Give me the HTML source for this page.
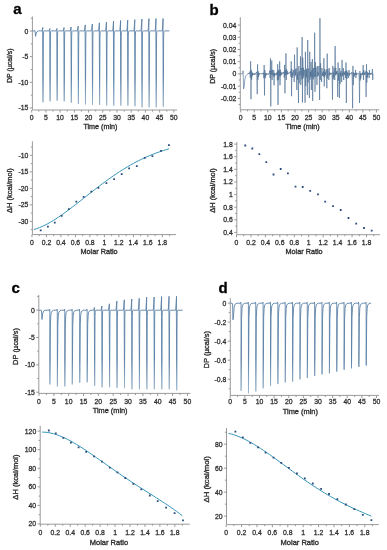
<!DOCTYPE html>
<html><head><meta charset="utf-8"><style>
html,body{margin:0;padding:0;background:#fff;width:387px;height:550px;overflow:hidden}
svg{display:block;filter:blur(0.3px)}
.t{font-family:"Liberation Sans",sans-serif;font-size:6.85px;fill:#2e2e2e;stroke:#2e2e2e;stroke-width:0.28}
.ti{font-family:"Liberation Sans",sans-serif;font-size:7.4px;fill:#2e2e2e;stroke:#2e2e2e;stroke-width:0.34}
.pl{font-family:"Liberation Sans",sans-serif;font-size:15px;font-weight:bold;fill:#000;stroke:#000;stroke-width:0.3}
</style></head><body>
<svg width="387" height="550" viewBox="0 0 387 550">
<defs><linearGradient id="ga" gradientUnits="userSpaceOnUse" x1="0" y1="30.9" x2="0" y2="107"><stop offset="0" stop-color="#5a80a6"/><stop offset="0.6" stop-color="#5a80a6"/><stop offset="1" stop-color="#9db6cc"/></linearGradient><linearGradient id="gc" gradientUnits="userSpaceOnUse" x1="0" y1="310.2" x2="0" y2="390"><stop offset="0" stop-color="#5a80a6"/><stop offset="0.6" stop-color="#5a80a6"/><stop offset="1" stop-color="#9db6cc"/></linearGradient><linearGradient id="gd" gradientUnits="userSpaceOnUse" x1="0" y1="303.2" x2="0" y2="393"><stop offset="0" stop-color="#5a80a6"/><stop offset="0.6" stop-color="#5a80a6"/><stop offset="1" stop-color="#9db6cc"/></linearGradient></defs>
<rect width="387" height="550" fill="#fff"/>
<text x="13.2" y="13.9" class="pl">a</text>
<text x="209.4" y="15" class="pl">b</text>
<text x="11.5" y="292.8" class="pl">c</text>
<text x="218.4" y="292.8" class="pl">d</text>
<path d="M32.4 16.5V110H177" fill="none" stroke="#8e8e8e" stroke-width="0.9"/>
<path d="M32.4 31.01h-2.6M32.4 56.67h-2.6M32.4 82.33h-2.6M32.4 107.99h-2.6M32.4 18.18h-1.6M32.4 43.84h-1.6M32.4 69.5h-1.6M32.4 95.16h-1.6M31.69 110v2.6M45.91 110v2.6M60.13 110v2.6M74.34 110v2.6M88.56 110v2.6M102.77 110v2.6M116.99 110v2.6M131.21 110v2.6M145.42 110v2.6M159.64 110v2.6M173.86 110v2.6M38.8 110v1.6M53.02 110v1.6M67.23 110v1.6M81.45 110v1.6M95.67 110v1.6M109.88 110v1.6M124.1 110v1.6M138.31 110v1.6M152.53 110v1.6M166.75 110v1.6" fill="none" stroke="#8e8e8e" stroke-width="0.9"/>
<text x="28.4" y="33.51" text-anchor="end" class="t">0</text>
<text x="28.4" y="59.17" text-anchor="end" class="t">-5</text>
<text x="28.4" y="84.83" text-anchor="end" class="t">-10</text>
<text x="28.4" y="110.49" text-anchor="end" class="t">-15</text>
<text x="31.69" y="119.85" text-anchor="middle" class="t">0</text>
<text x="45.91" y="119.85" text-anchor="middle" class="t">5</text>
<text x="60.13" y="119.85" text-anchor="middle" class="t">10</text>
<text x="74.34" y="119.85" text-anchor="middle" class="t">15</text>
<text x="88.56" y="119.85" text-anchor="middle" class="t">20</text>
<text x="102.77" y="119.85" text-anchor="middle" class="t">25</text>
<text x="116.99" y="119.85" text-anchor="middle" class="t">30</text>
<text x="131.21" y="119.85" text-anchor="middle" class="t">35</text>
<text x="145.42" y="119.85" text-anchor="middle" class="t">40</text>
<text x="159.64" y="119.85" text-anchor="middle" class="t">45</text>
<text x="173.86" y="119.85" text-anchor="middle" class="t">50</text>
<path d="M32.4 30.9L35 30.9L35.6 36.3L36.2 33L37.2 31.5L38.5 30.9L42 30.9L42.8 27.4L42.65 32.9L42.7 36.9L43 102.3L43.35 36.9L43.55 31.5L44.1 30.9L49.08 30.9L49.88 28.5L49.73 32.9L49.78 36.9L50.08 101.3L50.43 36.9L50.63 31.5L51.18 30.9L56.15 30.9L56.95 28.5L56.8 32.9L56.85 36.9L57.15 100.7L57.5 36.9L57.7 31.5L58.25 30.9L63.23 30.9L64.03 27.6L63.88 32.9L63.93 36.9L64.23 101.3L64.58 36.9L64.78 31.5L65.33 30.9L70.3 30.9L71.1 27L70.95 32.9L71 36.9L71.3 102.7L71.65 36.9L71.85 31.5L72.4 30.9L77.38 30.9L78.18 26.1L78.03 32.9L78.08 36.9L78.38 103.8L78.73 36.9L78.93 31.5L79.48 30.9L84.46 30.9L85.26 24.9L85.11 32.9L85.16 36.9L85.46 104.4L85.81 36.9L86.01 31.5L86.56 30.9L91.53 30.9L92.33 24L92.18 32.9L92.23 36.9L92.53 104.8L92.88 36.9L93.08 31.5L93.63 30.9L98.61 30.9L99.41 22.8L99.26 32.9L99.31 36.9L99.61 105L99.96 36.9L100.16 31.5L100.71 30.9L105.68 30.9L106.48 22L106.33 32.9L106.38 36.9L106.68 105.5L107.03 36.9L107.23 31.5L107.78 30.9L112.76 30.9L113.56 21L113.41 32.9L113.46 36.9L113.76 105.7L114.11 36.9L114.31 31.5L114.86 30.9L119.84 30.9L120.64 20.5L120.49 32.9L120.54 36.9L120.84 105.7L121.19 36.9L121.39 31.5L121.94 30.9L126.91 30.9L127.71 20L127.56 32.9L127.61 36.9L127.91 105.7L128.26 36.9L128.46 31.5L129.01 30.9L133.99 30.9L134.79 19.6L134.64 32.9L134.69 36.9L134.99 106.3L135.34 36.9L135.54 31.5L136.09 30.9L141.06 30.9L141.86 19L141.71 32.9L141.76 36.9L142.06 107.3L142.41 36.9L142.61 31.5L143.16 30.9L148.14 30.9L148.94 18.6L148.79 32.9L148.84 36.9L149.14 107.3L149.49 36.9L149.69 31.5L150.24 30.9L155.22 30.9L156.02 18.5L155.87 32.9L155.92 36.9L156.22 107.3L156.57 36.9L156.77 31.5L157.32 30.9L162.29 30.9L163.09 18.5L162.94 32.9L162.99 36.9L163.29 106.7L163.64 36.9L163.84 31.5L164.39 30.9L169.3 30.9" fill="none" stroke="url(#ga)" stroke-width="0.9" stroke-linejoin="round" />
<path d="M32.4 141.2V234.6H176" fill="none" stroke="#8e8e8e" stroke-width="0.9"/>
<path d="M32.4 155.34h-2.6M32.4 171.85h-2.6M32.4 188.36h-2.6M32.4 204.87h-2.6M32.4 221.38h-2.6M32.4 147.09h-1.6M32.4 163.6h-1.6M32.4 180.11h-1.6M32.4 196.62h-1.6M32.4 213.12h-1.6M32.4 229.63h-1.6M31.94 234.6v2.6M46.43 234.6v2.6M60.92 234.6v2.6M75.41 234.6v2.6M89.9 234.6v2.6M104.39 234.6v2.6M118.88 234.6v2.6M133.37 234.6v2.6M147.86 234.6v2.6M162.35 234.6v2.6M39.18 234.6v1.6M53.67 234.6v1.6M68.16 234.6v1.6M82.65 234.6v1.6M97.14 234.6v1.6M111.64 234.6v1.6M126.13 234.6v1.6M140.62 234.6v1.6M155.11 234.6v1.6M169.6 234.6v1.6" fill="none" stroke="#8e8e8e" stroke-width="0.9"/>
<text x="28.4" y="157.84" text-anchor="end" class="t">-10</text>
<text x="28.4" y="174.35" text-anchor="end" class="t">-15</text>
<text x="28.4" y="190.86" text-anchor="end" class="t">-20</text>
<text x="28.4" y="207.37" text-anchor="end" class="t">-25</text>
<text x="28.4" y="223.88" text-anchor="end" class="t">-30</text>
<text x="31.94" y="244.55" text-anchor="middle" class="t">0</text>
<text x="46.43" y="244.55" text-anchor="middle" class="t">0.2</text>
<text x="60.92" y="244.55" text-anchor="middle" class="t">0.4</text>
<text x="75.41" y="244.55" text-anchor="middle" class="t">0.6</text>
<text x="89.9" y="244.55" text-anchor="middle" class="t">0.8</text>
<text x="104.39" y="244.55" text-anchor="middle" class="t">1</text>
<text x="118.88" y="244.55" text-anchor="middle" class="t">1.2</text>
<text x="133.37" y="244.55" text-anchor="middle" class="t">1.4</text>
<text x="147.86" y="244.55" text-anchor="middle" class="t">1.6</text>
<text x="162.35" y="244.55" text-anchor="middle" class="t">1.8</text>
<path d="M33.9 229.52L36.66 228.65L39.42 227.63L42.18 226.46L44.94 225.15L47.7 223.72L50.46 222.18L53.21 220.53L55.97 218.8L58.73 216.98L61.49 215.09L64.25 213.13L67.01 211.12L69.77 209.06L72.53 206.96L75.29 204.84L78.05 202.69L80.81 200.52L83.57 198.34L86.32 196.17L89.08 193.99L91.84 191.83L94.6 189.68L97.36 187.55L100.12 185.45L102.88 183.37L105.64 181.33L108.4 179.33L111.16 177.37L113.92 175.46L116.68 173.59L119.43 171.78L122.19 170.01L124.95 168.3L127.71 166.65L130.47 165.06L133.23 163.52L135.99 162.04L138.75 160.63L141.51 159.27L144.27 157.98L147.03 156.74L149.79 155.56L152.54 154.43L155.3 153.37L158.06 152.35L160.82 151.39L163.58 150.47L166.34 149.6L169.1 148.78" fill="none" stroke="#3797b9" stroke-width="1.0" stroke-linejoin="round" />
<path d="M39.8 229.4h1.8v1.8h-1.8zM47 225.7h1.8v1.8h-1.8zM53.9 221.7h1.8v1.8h-1.8zM60.7 214.9h1.8v1.8h-1.8zM67.9 208.3h1.8v1.8h-1.8zM75.4 200.8h1.8v1.8h-1.8zM82.7 196h1.8v1.8h-1.8zM90.4 190.8h1.8v1.8h-1.8zM97.5 186.9h1.8v1.8h-1.8zM105.5 182.3h1.8v1.8h-1.8zM113.2 178.3h1.8v1.8h-1.8zM120.8 173.2h1.8v1.8h-1.8zM128.2 167.5h1.8v1.8h-1.8zM135.9 165.3h1.8v1.8h-1.8zM143.9 157h1.8v1.8h-1.8zM151.5 155.3h1.8v1.8h-1.8zM160.1 149.9h1.8v1.8h-1.8zM168 144.2h1.8v1.8h-1.8z" fill="#2b4d7d"/>
<path d="M240.3 17.2V109.8H379.2" fill="none" stroke="#8e8e8e" stroke-width="0.9"/>
<path d="M240.3 25.05h-2.6M240.3 37.26h-2.6M240.3 49.48h-2.6M240.3 61.7h-2.6M240.3 73.92h-2.6M240.3 86.14h-2.6M240.3 98.35h-2.6M240.3 31.16h-1.6M240.3 43.37h-1.6M240.3 55.59h-1.6M240.3 67.81h-1.6M240.3 80.03h-1.6M240.3 92.24h-1.6M240.3 104.46h-1.6M240.7 109.8v2.6M254.28 109.8v2.6M267.85 109.8v2.6M281.42 109.8v2.6M295 109.8v2.6M308.57 109.8v2.6M322.15 109.8v2.6M335.72 109.8v2.6M349.29 109.8v2.6M362.87 109.8v2.6M376.44 109.8v2.6M247.49 109.8v1.6M261.06 109.8v1.6M274.64 109.8v1.6M288.21 109.8v1.6M301.78 109.8v1.6M315.36 109.8v1.6M328.93 109.8v1.6M342.51 109.8v1.6M356.08 109.8v1.6M369.66 109.8v1.6" fill="none" stroke="#8e8e8e" stroke-width="0.9"/>
<text x="236.3" y="27.55" text-anchor="end" class="t">0.04</text>
<text x="236.3" y="39.76" text-anchor="end" class="t">0.03</text>
<text x="236.3" y="51.98" text-anchor="end" class="t">0.02</text>
<text x="236.3" y="64.2" text-anchor="end" class="t">0.01</text>
<text x="236.3" y="76.42" text-anchor="end" class="t">0</text>
<text x="236.3" y="88.64" text-anchor="end" class="t">-0.01</text>
<text x="236.3" y="100.85" text-anchor="end" class="t">-0.02</text>
<text x="240.7" y="120.05" text-anchor="middle" class="t">0</text>
<text x="254.28" y="120.05" text-anchor="middle" class="t">5</text>
<text x="267.85" y="120.05" text-anchor="middle" class="t">10</text>
<text x="281.42" y="120.05" text-anchor="middle" class="t">15</text>
<text x="295" y="120.05" text-anchor="middle" class="t">20</text>
<text x="308.57" y="120.05" text-anchor="middle" class="t">25</text>
<text x="322.15" y="120.05" text-anchor="middle" class="t">30</text>
<text x="335.72" y="120.05" text-anchor="middle" class="t">35</text>
<text x="349.29" y="120.05" text-anchor="middle" class="t">40</text>
<text x="362.87" y="120.05" text-anchor="middle" class="t">45</text>
<text x="376.44" y="120.05" text-anchor="middle" class="t">50</text>
<path d="M240.6 73.8L242.6 73.8L243.1 70.7L243.6 89L244.2 86L244.8 80L245.6 76L246.8 74.8L248 73.8L248 73.48L248.33 73.17L248.66 74.07L248.99 73.03L249.32 73.86L249.65 73.56L249.98 71.43L250.31 77.77L250.64 61.3L250.97 99.3L251.3 69.78L251.63 79.76L251.96 71.95L252.29 76.2L252.62 73.1L252.95 74.9L253.28 73.44L253.61 74.61L253.94 73.94L254.27 73.61L254.6 74.66L254.93 72.98L255.26 74.45L255.59 73.42L255.92 73.16L256.25 73.11L256.58 71.82L256.91 78.86L257.24 94.2L257.57 64.4L257.9 79.89L258.23 71.37L258.56 76.92L258.89 72.93L259.22 74.83L259.55 73.51L259.88 74.11L260.21 73.67L260.54 73.47L260.87 73.95L261.2 73.72L261.53 73.44L261.86 74.33L262.19 74.16L262.52 73.34L262.85 73.93L263.18 73.85L263.51 72.68L263.84 78.19L264.17 65L264.5 95.4L264.83 70.12L265.16 78.16L265.49 72.97L265.82 75.84L266.15 73.36L266.48 74.54L266.81 73.55L267.14 74.28L267.47 73.93L267.8 74.48L268.13 73.2L268.46 74.42L268.79 74.1L269.12 74.06L269.45 73.66L269.78 70.54L270.11 78.06L270.44 58.4L270.77 106.4L271.1 70.53L271.43 74.81L271.76 60.5L272.09 80L272.42 69.79L272.75 74.68L273.08 73.28L273.41 76.41L273.74 70L274.07 85.3L274.4 72.83L274.73 76.37L275.06 73.33L275.39 74.65L275.72 73.58L276.05 74.09L276.38 73.69L276.71 74.99L277.04 71.81L277.37 80.47L277.7 64.2L278.03 104.9L278.36 69.79L278.69 79.89L279.02 70.95L279.35 76.27L279.68 61.3L280.01 85.3L280.34 69.6L280.67 76.12L281 71.9L281.33 74.78L281.66 72.94L281.99 74.26L282.32 73.52L282.65 73.04L282.98 72.21L283.31 73.54L283.64 73.38L283.97 71.77L284.3 77.66L284.63 64.9L284.96 93.3L285.29 70.27L285.62 74.92L285.95 53.3L286.28 80L286.61 69.01L286.94 74.69L287.27 70.99L287.6 74.24L287.93 72.87L288.26 74.01L288.59 73.48L288.92 72.4L289.25 72.42L289.58 72.87L289.91 72.72L290.24 73.29L290.57 71.21L290.9 76.78L291.23 61.3L291.56 96.2L291.89 68.98L292.22 77.76L292.55 72.6L292.88 75.41L293.21 73.02L293.54 70.23L293.87 75.22L294.2 82L294.53 54.7L294.86 76.49L295.19 69.27L295.52 75.1L295.85 72.05L296.18 68.35L296.51 77.23L296.84 90L297.17 47.4L297.5 79.63L297.83 72.54L298.16 79.34L298.49 103L298.82 66L299.15 83.3L299.48 72.19L299.81 71L300.14 75.31L300.47 56.4L300.8 85L301.13 67.98L301.46 68.55L301.79 79.25L302.12 37L302.45 102.4L302.78 57.84L303.11 78.37L303.44 67.8L303.77 76.25L304.1 71.3L304.43 69.97L304.76 77.99L305.09 102.7L305.42 51.8L305.75 86.32L306.08 68.58L306.41 77.44L306.74 69.57L307.07 78.44L307.4 95L307.73 40L308.06 82.46L308.39 68.46L308.72 69.98L309.05 79.46L309.38 98L309.71 51.8L310.04 79.59L310.37 71.96L310.7 76.36L311.03 62L311.36 90L311.69 70.62L312.02 77.36L312.35 59L312.68 100.9L313.01 68.1L313.34 79.34L313.67 71.48L314 67.79L314.33 76.98L314.66 32.7L314.99 91.8L315.32 62.1L315.65 76.99L315.98 67.4L316.31 72.71L316.64 76.1L316.97 85L317.3 66L317.63 76.48L317.96 72.15L318.29 75.62L318.62 73.11L318.95 65.88L319.28 77.71L319.61 100L319.94 18.2L320.27 80.15L320.6 63.28L320.93 72.8L321.26 75.59L321.59 82L321.92 68L322.25 76L322.58 72.76L322.91 75.09L323.24 71.67L323.57 76.79L323.9 58.2L324.23 86.4L324.56 69L324.89 76.72L325.22 71.8L325.55 74.74L325.88 72.78L326.21 69.48L326.54 77.21L326.87 88.2L327.2 53.6L327.53 78.51L327.86 69.28L328.19 72.89L328.52 74.66L328.85 80L329.18 68L329.51 75.39L329.84 72.55L330.17 74.73L330.5 73.16L330.83 74.18L331.16 73.58L331.49 73.96L331.82 72.73L332.15 79.53L332.48 99.6L332.81 65.9L333.14 79.54L333.47 72.55L333.8 77.42L334.13 67.9L334.46 74.66L334.79 80L335.12 46L335.45 75.27L335.78 67.82L336.11 74.68L336.44 71.61L336.77 74.07L337.1 70.98L337.43 77.51L337.76 97L338.09 62.5L338.42 80.58L338.75 73.03L339.08 77.4L339.41 97.9L339.74 68L340.07 83.89L340.4 72.45L340.73 76.13L341.06 70.81L341.39 75.2L341.72 82L342.05 59.9L342.38 76.34L342.71 72.91L343.04 74.75L343.37 68L343.7 80L344.03 71.53L344.36 74.93L344.69 72.79L345.02 74.33L345.35 71.05L345.68 77.98L346.01 62.5L346.34 103L346.67 70.3L347 78.79L347.33 71.8L347.66 75.69L347.99 72.98L348.32 74.85L348.65 78L348.98 70L349.31 75.6L349.64 73.09L349.97 74.25L350.3 73.38L350.63 74.06L350.96 73.71L351.29 73.9L351.62 73.83L351.95 71.98L352.28 82.34L352.61 108.2L352.94 65.9L353.27 84.82L353.6 72.56L353.93 77.12L354.26 73.31L354.59 75.56L354.92 73.14L355.25 74.73L355.58 70L355.91 78L356.24 72.7L356.57 74.87L356.9 73.43L357.23 74.21L357.56 73.64L357.89 73.95L358.22 73.72L358.55 73.13L358.88 73.34L359.21 80.72L359.54 103L359.87 71.1L360.2 80.48L360.53 73.26L360.86 78.54L361.19 73.53L361.52 74.9L361.85 73.74L362.18 74.25L362.51 72.42L362.84 75.15L363.17 65L363.5 80L363.83 70.09L364.16 74.97L364.49 72.8L364.82 74.49L365.15 73.29L365.48 71.49L365.81 77.56L366.14 97L366.47 64.2L366.8 82.67L367.13 71.64L367.46 77.55L367.79 72.74L368.12 74.69L368.45 72.87L368.78 74.53L369.11 78L369.44 70L369.77 74.97L370.1 73.03L370.43 74.36L370.76 73.38L371.09 73.98L371.42 73.64L371.75 72.84L372.08 74.83L372.41 69L372.74 80L373 73.8" fill="none" stroke="#46698f" stroke-width="0.6" stroke-linejoin="round" />
<path d="M236.8 142V234.7H380" fill="none" stroke="#8e8e8e" stroke-width="0.9"/>
<path d="M236.8 144.12h-2.6M236.8 156.73h-2.6M236.8 169.34h-2.6M236.8 181.96h-2.6M236.8 194.57h-2.6M236.8 207.18h-2.6M236.8 219.8h-2.6M236.8 232.41h-2.6M236.8 150.42h-1.6M236.8 163.04h-1.6M236.8 175.65h-1.6M236.8 188.26h-1.6M236.8 200.88h-1.6M236.8 213.49h-1.6M236.8 226.1h-1.6M236.5 234.7v2.6M250.94 234.7v2.6M265.39 234.7v2.6M279.83 234.7v2.6M294.28 234.7v2.6M308.72 234.7v2.6M323.17 234.7v2.6M337.61 234.7v2.6M352.06 234.7v2.6M366.5 234.7v2.6M243.72 234.7v1.6M258.17 234.7v1.6M272.61 234.7v1.6M287.06 234.7v1.6M301.5 234.7v1.6M315.94 234.7v1.6M330.39 234.7v1.6M344.83 234.7v1.6M359.28 234.7v1.6M373.72 234.7v1.6" fill="none" stroke="#8e8e8e" stroke-width="0.9"/>
<text x="232.8" y="146.62" text-anchor="end" class="t">1.8</text>
<text x="232.8" y="159.23" text-anchor="end" class="t">1.6</text>
<text x="232.8" y="171.84" text-anchor="end" class="t">1.4</text>
<text x="232.8" y="184.46" text-anchor="end" class="t">1.2</text>
<text x="232.8" y="197.07" text-anchor="end" class="t">1</text>
<text x="232.8" y="209.68" text-anchor="end" class="t">0.8</text>
<text x="232.8" y="222.3" text-anchor="end" class="t">0.6</text>
<text x="232.8" y="234.91" text-anchor="end" class="t">0.4</text>
<text x="236.5" y="244.7" text-anchor="middle" class="t">0</text>
<text x="250.94" y="244.7" text-anchor="middle" class="t">0.2</text>
<text x="265.39" y="244.7" text-anchor="middle" class="t">0.4</text>
<text x="279.83" y="244.7" text-anchor="middle" class="t">0.6</text>
<text x="294.28" y="244.7" text-anchor="middle" class="t">0.8</text>
<text x="308.72" y="244.7" text-anchor="middle" class="t">1</text>
<text x="323.17" y="244.7" text-anchor="middle" class="t">1.2</text>
<text x="337.61" y="244.7" text-anchor="middle" class="t">1.4</text>
<text x="352.06" y="244.7" text-anchor="middle" class="t">1.6</text>
<text x="366.5" y="244.7" text-anchor="middle" class="t">1.8</text>
<path d="M244.4 144.6h1.8v1.8h-1.8zM251.4 147.6h1.8v1.8h-1.8zM258.4 153.2h1.8v1.8h-1.8zM265.4 161.3h1.8v1.8h-1.8zM272.6 173.6h1.8v1.8h-1.8zM279.8 168.1h1.8v1.8h-1.8zM287 172.5h1.8v1.8h-1.8zM294.6 185.8h1.8v1.8h-1.8zM301.8 186.1h1.8v1.8h-1.8zM309.3 189.9h1.8v1.8h-1.8zM317.1 193.5h1.8v1.8h-1.8zM324.3 200.8h1.8v1.8h-1.8zM332.1 205.2h1.8v1.8h-1.8zM339.8 209.1h1.8v1.8h-1.8zM347.6 217.1h1.8v1.8h-1.8zM355.3 222.7h1.8v1.8h-1.8zM363.1 227.1h1.8v1.8h-1.8zM370.8 229.7h1.8v1.8h-1.8z" fill="#2b4d7d"/>
<path d="M38.8 294.9V393.4H190.4" fill="none" stroke="#8e8e8e" stroke-width="0.9"/>
<path d="M38.8 310.15h-2.6M38.8 337.5h-2.6M38.8 364.85h-2.6M38.8 392.2h-2.6M38.8 296.48h-1.6M38.8 323.82h-1.6M38.8 351.17h-1.6M38.8 378.52h-1.6M38.99 393.4v2.6M53.83 393.4v2.6M68.68 393.4v2.6M83.52 393.4v2.6M98.37 393.4v2.6M113.21 393.4v2.6M128.05 393.4v2.6M142.9 393.4v2.6M157.74 393.4v2.6M172.58 393.4v2.6M187.43 393.4v2.6M46.41 393.4v1.6M61.26 393.4v1.6M76.1 393.4v1.6M90.94 393.4v1.6M105.79 393.4v1.6M120.63 393.4v1.6M135.47 393.4v1.6M150.32 393.4v1.6M165.16 393.4v1.6M180.01 393.4v1.6" fill="none" stroke="#8e8e8e" stroke-width="0.9"/>
<text x="34.8" y="312.65" text-anchor="end" class="t">0</text>
<text x="34.8" y="340" text-anchor="end" class="t">-5</text>
<text x="34.8" y="367.35" text-anchor="end" class="t">-10</text>
<text x="34.8" y="394.7" text-anchor="end" class="t">-15</text>
<text x="38.99" y="403.6" text-anchor="middle" class="t">0</text>
<text x="53.83" y="403.6" text-anchor="middle" class="t">5</text>
<text x="68.68" y="403.6" text-anchor="middle" class="t">10</text>
<text x="83.52" y="403.6" text-anchor="middle" class="t">15</text>
<text x="98.37" y="403.6" text-anchor="middle" class="t">20</text>
<text x="113.21" y="403.6" text-anchor="middle" class="t">25</text>
<text x="128.05" y="403.6" text-anchor="middle" class="t">30</text>
<text x="142.9" y="403.6" text-anchor="middle" class="t">35</text>
<text x="157.74" y="403.6" text-anchor="middle" class="t">40</text>
<text x="172.58" y="403.6" text-anchor="middle" class="t">45</text>
<text x="187.43" y="403.6" text-anchor="middle" class="t">50</text>
<path d="M38.8 310.2L41.2 310.2L41.6 312L42 319.5L42.6 314L43.6 311L45 310.2L49.3 310.2L49.7 309.2L49.85 312.2L49.9 384.4L50.4 324.2L50.85 315.2L51.4 312.2L52.3 310.8L53.7 310.2L56.76 310.2L57.16 309.2L57.31 312.2L57.36 386.4L57.86 324.2L58.31 315.2L58.86 312.2L59.76 310.8L61.16 310.2L64.22 310.2L64.62 309.2L64.77 312.2L64.82 386.4L65.32 324.2L65.77 315.2L66.32 312.2L67.22 310.8L68.62 310.2L71.68 310.2L72.08 309.2L72.23 312.2L72.28 384.4L72.78 324.2L73.23 315.2L73.78 312.2L74.68 310.8L76.08 310.2L79.14 310.2L79.54 309.2L79.69 312.2L79.74 382.7L80.24 324.2L80.69 315.2L81.24 312.2L82.14 310.8L83.54 310.2L86.6 310.2L87 309.2L87.15 312.2L87.2 382.3L87.7 324.2L88.15 315.2L88.7 312.2L89.6 310.8L91 310.2L93.66 310.2L94.46 307.5L94.31 312.2L94.36 316.2L94.66 385.8L95.01 316.2L95.21 310.8L95.76 310.2L101.12 310.2L101.92 306L101.77 312.2L101.82 316.2L102.12 387.3L102.47 316.2L102.67 310.8L103.22 310.2L108.58 310.2L109.38 303.8L109.23 312.2L109.28 316.2L109.58 387.3L109.93 316.2L110.13 310.8L110.68 310.2L116.04 310.2L116.84 301.1L116.69 312.2L116.74 316.2L117.04 387.9L117.39 316.2L117.59 310.8L118.14 310.2L123.5 310.2L124.3 299.8L124.15 312.2L124.2 316.2L124.5 388.2L124.85 316.2L125.05 310.8L125.6 310.2L130.96 310.2L131.76 299L131.61 312.2L131.66 316.2L131.96 389.3L132.31 316.2L132.51 310.8L133.06 310.2L138.42 310.2L139.22 298.4L139.07 312.2L139.12 316.2L139.42 389.3L139.77 316.2L139.97 310.8L140.52 310.2L145.88 310.2L146.68 297.1L146.53 312.2L146.58 316.2L146.88 389.3L147.23 316.2L147.43 310.8L147.98 310.2L153.34 310.2L154.14 297L153.99 312.2L154.04 316.2L154.34 389.3L154.69 316.2L154.89 310.8L155.44 310.2L160.8 310.2L161.6 296.5L161.45 312.2L161.5 316.2L161.8 389.3L162.15 316.2L162.35 310.8L162.9 310.2L168.26 310.2L169.06 296.3L168.91 312.2L168.96 316.2L169.26 389.3L169.61 316.2L169.81 310.8L170.36 310.2L175.72 310.2L176.52 296.3L176.37 312.2L176.42 316.2L176.72 390.4L177.07 316.2L177.27 310.8L177.82 310.2L182.7 310.2" fill="none" stroke="url(#gc)" stroke-width="0.9" stroke-linejoin="round" />
<path d="M40.2 425.8V524.2H189.8" fill="none" stroke="#8e8e8e" stroke-width="0.9"/>
<path d="M40.2 431.11h-2.6M40.2 449.69h-2.6M40.2 468.26h-2.6M40.2 486.84h-2.6M40.2 505.41h-2.6M40.2 523.99h-2.6M40.2 440.4h-1.6M40.2 458.98h-1.6M40.2 477.55h-1.6M40.2 496.12h-1.6M40.2 514.7h-1.6M40.34 524.2v2.6M55.29 524.2v2.6M70.23 524.2v2.6M85.17 524.2v2.6M100.12 524.2v2.6M115.06 524.2v2.6M130 524.2v2.6M144.94 524.2v2.6M159.89 524.2v2.6M174.83 524.2v2.6M47.82 524.2v1.6M62.76 524.2v1.6M77.7 524.2v1.6M92.64 524.2v1.6M107.59 524.2v1.6M122.53 524.2v1.6M137.47 524.2v1.6M152.42 524.2v1.6M167.36 524.2v1.6M182.3 524.2v1.6" fill="none" stroke="#8e8e8e" stroke-width="0.9"/>
<text x="36.2" y="433.61" text-anchor="end" class="t">120</text>
<text x="36.2" y="452.19" text-anchor="end" class="t">100</text>
<text x="36.2" y="470.76" text-anchor="end" class="t">80</text>
<text x="36.2" y="489.34" text-anchor="end" class="t">60</text>
<text x="36.2" y="507.91" text-anchor="end" class="t">40</text>
<text x="36.2" y="526.49" text-anchor="end" class="t">20</text>
<text x="40.34" y="534.6" text-anchor="middle" class="t">0</text>
<text x="55.29" y="534.6" text-anchor="middle" class="t">0.2</text>
<text x="70.23" y="534.6" text-anchor="middle" class="t">0.4</text>
<text x="85.17" y="534.6" text-anchor="middle" class="t">0.6</text>
<text x="100.12" y="534.6" text-anchor="middle" class="t">0.8</text>
<text x="115.06" y="534.6" text-anchor="middle" class="t">1</text>
<text x="130" y="534.6" text-anchor="middle" class="t">1.2</text>
<text x="144.94" y="534.6" text-anchor="middle" class="t">1.4</text>
<text x="159.89" y="534.6" text-anchor="middle" class="t">1.6</text>
<text x="174.83" y="534.6" text-anchor="middle" class="t">1.8</text>
<path d="M42.1 432.09L44.96 432.2L47.82 432.52L50.68 433.04L53.54 433.75L56.41 434.63L59.27 435.66L62.13 436.83L64.99 438.13L67.85 439.54L70.71 441.06L73.57 442.67L76.43 444.36L79.3 446.13L82.16 447.95L85.02 449.82L87.88 451.73L90.74 453.68L93.6 455.66L96.46 457.66L99.32 459.67L102.19 461.68L105.05 463.7L107.91 465.72L110.77 467.73L113.63 469.73L116.49 471.72L119.35 473.69L122.21 475.65L125.08 477.59L127.94 479.5L130.8 481.4L133.66 483.28L136.52 485.15L139.38 487L142.24 488.83L145.1 490.65L147.97 492.47L150.83 494.28L153.69 496.1L156.55 497.92L159.41 499.75L162.27 501.6L165.13 503.47L167.99 505.38L170.86 507.33L173.72 509.33L176.58 511.38L179.44 513.5L182.3 515.7" fill="none" stroke="#3797b9" stroke-width="1.0" stroke-linejoin="round" />
<path d="M47.9 429.6h1.8v1.8h-1.8zM54.9 432.4h1.8v1.8h-1.8zM62.4 437h1.8v1.8h-1.8zM70 441.7h1.8v1.8h-1.8zM77.7 446.5h1.8v1.8h-1.8zM85.3 451h1.8v1.8h-1.8zM93.1 455.4h1.8v1.8h-1.8zM101 460.8h1.8v1.8h-1.8zM108.9 466.7h1.8v1.8h-1.8zM116.5 471.5h1.8v1.8h-1.8zM124.4 477.1h1.8v1.8h-1.8zM132.5 483h1.8v1.8h-1.8zM140.4 488.5h1.8v1.8h-1.8zM148.9 494.6h1.8v1.8h-1.8zM156.8 500.2h1.8v1.8h-1.8zM165.2 506.7h1.8v1.8h-1.8zM173.7 512.3h1.8v1.8h-1.8zM182.1 519.4h1.8v1.8h-1.8z" fill="#2b4d7d"/>
<path d="M230.3 298.1V395.4H379" fill="none" stroke="#8e8e8e" stroke-width="0.9"/>
<path d="M230.3 303.06h-2.6M230.3 322.1h-2.6M230.3 341.14h-2.6M230.3 360.18h-2.6M230.3 379.22h-2.6M230.3 312.58h-1.6M230.3 331.62h-1.6M230.3 350.66h-1.6M230.3 369.7h-1.6M230.3 388.74h-1.6M230.25 395.4v2.6M244.88 395.4v2.6M259.51 395.4v2.6M274.13 395.4v2.6M288.76 395.4v2.6M303.39 395.4v2.6M318.02 395.4v2.6M332.65 395.4v2.6M347.28 395.4v2.6M361.9 395.4v2.6M376.53 395.4v2.6M237.56 395.4v1.6M252.19 395.4v1.6M266.82 395.4v1.6M281.45 395.4v1.6M296.08 395.4v1.6M310.71 395.4v1.6M325.33 395.4v1.6M339.96 395.4v1.6M354.59 395.4v1.6M369.22 395.4v1.6" fill="none" stroke="#8e8e8e" stroke-width="0.9"/>
<text x="226.3" y="305.56" text-anchor="end" class="t">0</text>
<text x="226.3" y="324.6" text-anchor="end" class="t">-0.2</text>
<text x="226.3" y="343.64" text-anchor="end" class="t">-0.4</text>
<text x="226.3" y="362.68" text-anchor="end" class="t">-0.6</text>
<text x="226.3" y="381.72" text-anchor="end" class="t">-0.8</text>
<text x="230.25" y="404.45" text-anchor="middle" class="t">0</text>
<text x="244.88" y="404.45" text-anchor="middle" class="t">5</text>
<text x="259.51" y="404.45" text-anchor="middle" class="t">10</text>
<text x="274.13" y="404.45" text-anchor="middle" class="t">15</text>
<text x="288.76" y="404.45" text-anchor="middle" class="t">20</text>
<text x="303.39" y="404.45" text-anchor="middle" class="t">25</text>
<text x="318.02" y="404.45" text-anchor="middle" class="t">30</text>
<text x="332.65" y="404.45" text-anchor="middle" class="t">35</text>
<text x="347.28" y="404.45" text-anchor="middle" class="t">40</text>
<text x="361.9" y="404.45" text-anchor="middle" class="t">45</text>
<text x="376.53" y="404.45" text-anchor="middle" class="t">50</text>
<path d="M230.5 303.2L232.2 303.2L232.6 305L233 319.8L233.6 314L234.2 307L235.2 304L237 303.2L240.5 303.2L240.9 302.2L241.05 305.2L241.1 390.8L241.6 317.2L242.05 308.2L242.6 305.2L243.5 303.8L244.9 303.2L247.86 303.2L248.26 302.2L248.41 305.2L248.46 393.3L248.96 317.2L249.41 308.2L249.96 305.2L250.86 303.8L252.26 303.2L255.22 303.2L255.62 302.2L255.77 305.2L255.82 391.5L256.32 317.2L256.77 308.2L257.32 305.2L258.22 303.8L259.62 303.2L262.58 303.2L262.98 302.2L263.13 305.2L263.18 388.3L263.68 317.2L264.13 308.2L264.68 305.2L265.58 303.8L266.98 303.2L269.94 303.2L270.34 302.2L270.49 305.2L270.54 385.8L271.04 317.2L271.49 308.2L272.04 305.2L272.94 303.8L274.34 303.2L277.3 303.2L277.7 302.2L277.85 305.2L277.9 384.1L278.4 317.2L278.85 308.2L279.4 305.2L280.3 303.8L281.7 303.2L284.66 303.2L285.06 302.2L285.21 305.2L285.26 382.4L285.76 317.2L286.21 308.2L286.76 305.2L287.66 303.8L289.06 303.2L292.02 303.2L292.42 302.2L292.57 305.2L292.62 381.6L293.12 317.2L293.57 308.2L294.12 305.2L295.02 303.8L296.42 303.2L299.38 303.2L299.78 302.2L299.93 305.2L299.98 379.4L300.48 317.2L300.93 308.2L301.48 305.2L302.38 303.8L303.78 303.2L306.74 303.2L307.14 302.2L307.29 305.2L307.34 378L307.84 317.2L308.29 308.2L308.84 305.2L309.74 303.8L311.14 303.2L314.1 303.2L314.5 302.2L314.65 305.2L314.7 376L315.2 317.2L315.65 308.2L316.2 305.2L317.1 303.8L318.5 303.2L321.46 303.2L321.86 302.2L322.01 305.2L322.06 374.4L322.56 317.2L323.01 308.2L323.56 305.2L324.46 303.8L325.86 303.2L328.82 303.2L329.22 302.2L329.37 305.2L329.42 373.3L329.92 317.2L330.37 308.2L330.92 305.2L331.82 303.8L333.22 303.2L336.18 303.2L336.58 302.2L336.73 305.2L336.78 371.6L337.28 317.2L337.73 308.2L338.28 305.2L339.18 303.8L340.58 303.2L343.54 303.2L343.94 302.2L344.09 305.2L344.14 369.7L344.64 317.2L345.09 308.2L345.64 305.2L346.54 303.8L347.94 303.2L350.9 303.2L351.3 302.2L351.45 305.2L351.5 368.3L352 317.2L352.45 308.2L353 305.2L353.9 303.8L355.3 303.2L358.26 303.2L358.66 302.2L358.81 305.2L358.86 366.9L359.36 317.2L359.81 308.2L360.36 305.2L361.26 303.8L362.66 303.2L365.62 303.2L366.02 302.2L366.17 305.2L366.22 365.5L366.72 317.2L367.17 308.2L367.72 305.2L368.62 303.8L370.02 303.2L371.2 303.2" fill="none" stroke="url(#gd)" stroke-width="0.9" stroke-linejoin="round" />
<path d="M226.5 428.1V524.6H378.8" fill="none" stroke="#8e8e8e" stroke-width="0.9"/>
<path d="M226.5 444.17h-2.6M226.5 468.14h-2.6M226.5 492.11h-2.6M226.5 516.08h-2.6M226.5 432.19h-1.6M226.5 456.15h-1.6M226.5 480.12h-1.6M226.5 504.09h-1.6M226.17 524.6v2.6M241.57 524.6v2.6M256.97 524.6v2.6M272.37 524.6v2.6M287.77 524.6v2.6M303.17 524.6v2.6M318.57 524.6v2.6M333.97 524.6v2.6M349.37 524.6v2.6M364.77 524.6v2.6M233.87 524.6v1.6M249.27 524.6v1.6M264.67 524.6v1.6M280.07 524.6v1.6M295.47 524.6v1.6M310.87 524.6v1.6M326.27 524.6v1.6M341.67 524.6v1.6M357.07 524.6v1.6M372.47 524.6v1.6" fill="none" stroke="#8e8e8e" stroke-width="0.9"/>
<text x="222.5" y="446.67" text-anchor="end" class="t">80</text>
<text x="222.5" y="470.64" text-anchor="end" class="t">60</text>
<text x="222.5" y="494.61" text-anchor="end" class="t">40</text>
<text x="222.5" y="518.58" text-anchor="end" class="t">20</text>
<text x="226.17" y="535.15" text-anchor="middle" class="t">0</text>
<text x="241.57" y="535.15" text-anchor="middle" class="t">0.2</text>
<text x="256.97" y="535.15" text-anchor="middle" class="t">0.4</text>
<text x="272.37" y="535.15" text-anchor="middle" class="t">0.6</text>
<text x="287.77" y="535.15" text-anchor="middle" class="t">0.8</text>
<text x="303.17" y="535.15" text-anchor="middle" class="t">1</text>
<text x="318.57" y="535.15" text-anchor="middle" class="t">1.2</text>
<text x="333.97" y="535.15" text-anchor="middle" class="t">1.4</text>
<text x="349.37" y="535.15" text-anchor="middle" class="t">1.6</text>
<text x="364.77" y="535.15" text-anchor="middle" class="t">1.8</text>
<path d="M228.5 433.36L231.41 434.07L234.33 434.94L237.24 435.97L240.16 437.15L243.07 438.45L245.99 439.87L248.9 441.41L251.81 443.04L254.73 444.76L257.64 446.56L260.56 448.43L263.47 450.36L266.39 452.35L269.3 454.38L272.21 456.44L275.13 458.53L278.04 460.65L280.96 462.78L283.87 464.92L286.79 467.06L289.7 469.2L292.61 471.33L295.53 473.44L298.44 475.54L301.36 477.62L304.27 479.67L307.19 481.69L310.1 483.68L313.01 485.63L315.93 487.54L318.84 489.42L321.76 491.25L324.67 493.04L327.59 494.79L330.5 496.49L333.41 498.14L336.33 499.76L339.24 501.32L342.16 502.85L345.07 504.33L347.99 505.77L350.9 507.17L353.81 508.54L356.73 509.87L359.64 511.17L362.56 512.45L365.47 513.7L368.39 514.93L371.3 516.14" fill="none" stroke="#3797b9" stroke-width="1.0" stroke-linejoin="round" />
<path d="M234.5 430.7h1.8v1.8h-1.8zM241.9 436.5h1.8v1.8h-1.8zM249.4 441.9h1.8v1.8h-1.8zM257.1 446.5h1.8v1.8h-1.8zM264.7 451.7h1.8v1.8h-1.8zM272.6 456.8h1.8v1.8h-1.8zM280.3 462h1.8v1.8h-1.8zM288 467h1.8v1.8h-1.8zM296 472.6h1.8v1.8h-1.8zM304 477.5h1.8v1.8h-1.8zM311.9 482.6h1.8v1.8h-1.8zM320.2 488h1.8v1.8h-1.8zM328.1 493.1h1.8v1.8h-1.8zM336.4 498.2h1.8v1.8h-1.8zM344.9 503.6h1.8v1.8h-1.8zM353.4 508.2h1.8v1.8h-1.8zM361.9 513.9h1.8v1.8h-1.8zM370.5 519.3h1.8v1.8h-1.8z" fill="#2b4d7d"/>
<text id="aDP" transform="translate(8.92 65.78) rotate(-90)" x="0" y="2.6" text-anchor="middle" textLength="34.6" lengthAdjust="spacingAndGlyphs" class="ti">DP (µcal/s)</text>
<text id="aT" x="100.41" y="128.83" text-anchor="middle" textLength="33.98" lengthAdjust="spacingAndGlyphs" class="ti">Time (min)</text>
<text id="aH" transform="translate(9.33 190.56) rotate(-90)" x="0" y="2.6" text-anchor="middle" textLength="44.8" lengthAdjust="spacingAndGlyphs" class="ti">ΔH (kcal/mol)</text>
<text id="aM" x="99.06" y="254.35" text-anchor="middle" textLength="37.04" lengthAdjust="spacingAndGlyphs" class="ti">Molar Ratio</text>
<text id="bDP" transform="translate(212.46 66.38) rotate(-90)" x="0" y="2.6" text-anchor="middle" textLength="34.92" lengthAdjust="spacingAndGlyphs" class="ti">DP (µcal/s)</text>
<text id="bT" x="302.62" y="128.58" text-anchor="middle" textLength="34.16" lengthAdjust="spacingAndGlyphs" class="ti">Time (min)</text>
<text id="bH" transform="translate(212.39 190.4) rotate(-90)" x="0" y="2.6" text-anchor="middle" textLength="44.48" lengthAdjust="spacingAndGlyphs" class="ti">ΔH (kcal/mol)</text>
<text id="bM" x="304.06" y="254.35" text-anchor="middle" textLength="37.04" lengthAdjust="spacingAndGlyphs" class="ti">Molar Ratio</text>
<text id="cDP" transform="translate(15.4 346.47) rotate(-90)" x="0" y="2.6" text-anchor="middle" textLength="36.86" lengthAdjust="spacingAndGlyphs" class="ti">DP (µcal/s)</text>
<text id="cT" x="110.13" y="412.77" text-anchor="middle" textLength="34.9" lengthAdjust="spacingAndGlyphs" class="ti">Time (min)</text>
<text id="cH" transform="translate(15.4 477.06) rotate(-90)" x="0" y="2.6" text-anchor="middle" textLength="45.16" lengthAdjust="spacingAndGlyphs" class="ti">ΔH (kcal/mol)</text>
<text id="cM" x="108.93" y="544.91" text-anchor="middle" textLength="38.42" lengthAdjust="spacingAndGlyphs" class="ti">Molar Ratio</text>
<text id="dDP" transform="translate(206.46 349.69) rotate(-90)" x="0" y="2.6" text-anchor="middle" textLength="37.54" lengthAdjust="spacingAndGlyphs" class="ti">DP (µcal/s)</text>
<text id="dT" x="300.32" y="414.45" text-anchor="middle" textLength="35.16" lengthAdjust="spacingAndGlyphs" class="ti">Time (min)</text>
<text id="dH" transform="translate(206.05 479.31) rotate(-90)" x="0" y="2.6" text-anchor="middle" textLength="46.42" lengthAdjust="spacingAndGlyphs" class="ti">ΔH (kcal/mol)</text>
<text id="dM" x="299.75" y="544.91" text-anchor="middle" textLength="38.42" lengthAdjust="spacingAndGlyphs" class="ti">Molar Ratio</text>
</svg>
</body></html>
